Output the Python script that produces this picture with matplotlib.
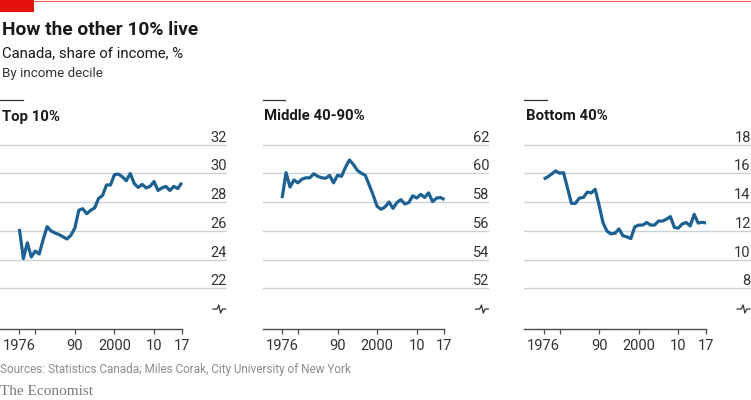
import matplotlib
matplotlib.use("Agg")
import matplotlib.pyplot as plt
import matplotlib.transforms as mtransforms
from matplotlib.patches import Rectangle
from matplotlib.lines import Line2D

plt.rcParams['font.family'] = ['Roboto', 'DejaVu Sans']

years = list(range(1976, 2018))

top10 = [26.14, 24.08, 25.18, 24.19, 24.6, 24.4, 25.4, 26.3, 26.0, 25.86,
         25.75, 25.6, 25.44, 25.7, 26.2, 27.44, 27.55, 27.2, 27.44, 27.6,
         28.27, 28.47, 29.2, 29.2, 29.92, 29.96, 29.77, 29.5, 30.0, 29.3,
         29.03, 29.24, 29.0, 29.1, 29.44, 28.82, 29.0, 29.1, 28.82, 29.1,
         28.95, 29.36]

middle = [58.29, 60.06, 59.06, 59.55, 59.35, 59.6, 59.7, 59.7, 59.98, 59.8,
          59.7, 59.67, 59.86, 59.35, 59.88, 59.8, 60.43, 60.94, 60.63, 60.22,
          60.02, 59.88, 59.2, 58.49, 57.71, 57.51, 57.67, 58.02, 57.57, 57.98,
          58.18, 57.88, 57.98, 58.45, 58.29, 58.55, 58.33, 58.65, 58.04, 58.29,
          58.33, 58.18]

bottom40 = [15.61, 15.76, 15.96, 16.18, 16.02, 16.06, 15.0, 13.92, 13.92, 14.29,
            14.33, 14.7, 14.65, 14.9, 13.78, 12.55, 11.98, 11.8, 11.84, 12.14,
            11.67, 11.59, 11.47, 12.29, 12.41, 12.41, 12.59, 12.41, 12.41, 12.69,
            12.69, 12.82, 13.0, 12.24, 12.2, 12.49, 12.59, 12.35, 13.16, 12.55,
            12.61, 12.55]

panel_titles = ["Top 10%", "Middle 40-90%", "Bottom 40%"]
y_ticks = [[22, 24, 26, 28, 30, 32],
           [52, 54, 56, 58, 60, 62],
           [8, 10, 12, 14, 16, 18]]
x_ticks = [1976, 1980, 1990, 2000, 2010, 2017]
x_labels = ["1976", "", "90", "2000", "10", "17"]

series = [top10, middle, bottom40]

W, H = 751, 400
fig = plt.figure(figsize=(W / 100, H / 100), dpi=100)
fig.patch.set_facecolor('white')

LINE_C = '#1d6192'
GRID_C = '#c9d2d8'
TEXT_C = '#1a1a1a'

lefts = [0, 262.7, 524.3]
pw = 226.5
ax_top_px, ax_bot_px = 140, 329

for i, (vals, title, yt) in enumerate(zip(series, panel_titles, y_ticks)):
    ax = fig.add_axes([lefts[i] / W, 1 - ax_bot_px / H, pw / W, (ax_bot_px - ax_top_px) / H])
    lo = yt[0] - 2.82
    hi = yt[-1] + 0.33
    ax.set_ylim(lo, hi)
    ax.set_xlim(1971.1, 2028.3)
    ax.set_facecolor('none')
    for s in ['top', 'right', 'left']:
        ax.spines[s].set_visible(False)
    ax.spines['bottom'].set_bounds(1971.1, 2017)
    ax.spines['bottom'].set_color('#4d4d4d')
    ax.spines['bottom'].set_linewidth(1.0)
    ax.set_yticks([])
    for v in yt:
        ax.axhline(v, color=GRID_C, lw=1.0, zorder=1)
    trans = mtransforms.blended_transform_factory(ax.transAxes, ax.transData)
    trans_up = mtransforms.offset_copy(trans, fig=fig, x=0, y=3, units='dots')
    for v in yt:
        ax.text(1.0, v, str(v), transform=trans_up, ha='right', va='baseline',
                fontsize=10.5, color='#333333', clip_on=False)
    # axis break squiggle
    bv = yt[0] - 1.43
    sq_x = [0.940, 0.958, 0.966, 0.974, 0.982, 0.996]
    sq_d = [0.0, 0.0, 0.28, -0.28, 0.0, 0.0]
    ax.add_line(Line2D(sq_x, [bv + d for d in sq_d], transform=trans,
                       color='#333333', lw=0.9, clip_on=False))
    ax.plot(years, vals, color=LINE_C, lw=2.3, zorder=3, solid_joinstyle='round',
            solid_capstyle='butt')
    ax.set_xticks(x_ticks)
    ax.set_xticklabels(x_labels)
    ax.tick_params(axis='x', direction='out', length=3.5, width=0.9, color='#4d4d4d',
                   pad=4, labelsize=10.5, labelcolor='#333333')
    # panel title and small rule
    fig.add_artist(Line2D([lefts[i] / W, (lefts[i] + 22.5) / W], [1 - 100 / H, 1 - 100 / H],
                          color='#333333', lw=0.9))
    fig.text((lefts[i] + 1.5) / W, 1 - 120.5 / H, title, fontsize=10.7, fontweight='bold',
             color=TEXT_C, va='baseline', ha='left')

# header
fig.add_artist(Line2D([0, 1], [1 - 1.2 / H, 1 - 1.2 / H], color='#e3120b', lw=0.8, alpha=0.7))
fig.add_artist(Rectangle((0, 1 - 12 / H), 34 / W, 12 / H, color='#e3120b', lw=0))

fig.text(1.5 / W, 1 - 35 / H, "How the other 10% live", fontsize=13.8, fontweight='bold',
         color=TEXT_C, va='baseline')
fig.text(1.5 / W, 1 - 57 / H, "Canada, share of income, %", fontsize=10.7, color=TEXT_C,
         va='baseline')
fig.text(1.5 / W, 1 - 77 / H, "By income decile", fontsize=9.6, color='#333333', va='baseline')

fig.text(0.5 / W, 1 - 373.5 / H, "Sources: Statistics Canada; Miles Corak, City University of New York",
         fontsize=8.5, color='#8c8c8c', va='baseline')
fig.text(0.5 / W, 1 - 395 / H, "The Economist", fontsize=11, color='#7a7a7a', va='baseline',
         family='Liberation Serif')

fig.savefig("out.png", dpi=100, facecolor='white')
